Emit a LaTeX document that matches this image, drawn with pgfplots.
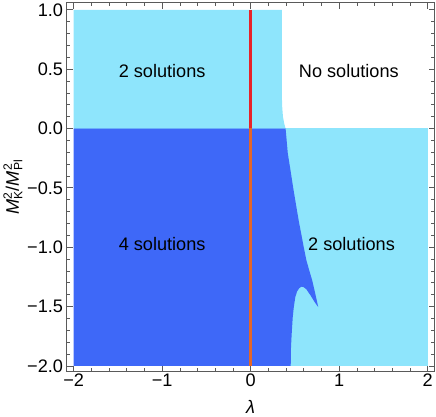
\documentclass[border=0pt]{standalone}
\usepackage{fontspec}
\setmainfont{Liberation Sans}
\usepackage{pgfplots}
\pgfplotsset{compat=1.18}

\definecolor{lightreg}{RGB}{142,229,252}
\definecolor{darkreg}{RGB}{62,104,248}
\definecolor{lineup}{RGB}{232,34,40}
\definecolor{linedown}{RGB}{228,102,40}
\definecolor{framegray}{RGB}{90,90,90}

\newcommand{\ssub}[2]{\makebox[0pt][l]{\raisebox{0.75ex}{\fontsize{12}{12}\selectfont #2}}\raisebox{-0.35ex}{\fontsize{12}{12}\selectfont #1}}

\begin{document}
\begin{tikzpicture}
\begin{axis}[
    width=364bp, height=365bp,
    scale only axis,
    xmin=-2.08, xmax=2.08,
    ymin=-2.05, ymax=1.06,
    xtick={-2,-1,0,1,2},
    xticklabels={−2,−1,0,1,2},
    ytick={-2,-1.5,-1,-0.5,0,0.5,1},
    yticklabels={−2.0,−1.5,−1.0,−0.5,0.0,0.5,1.0},
    minor x tick num=4,
    minor y tick num=4,
    tick align=inside,
    major tick length=6bp,
    minor tick length=3.5bp,
    axis line style={framegray, line width=0.6bp},
    tick style={framegray, line width=0.6bp},
    font=\fontsize{18}{21}\selectfont,
    xticklabel style={yshift=1bp},
    xlabel={\textit{λ}},
    ylabel={\textit{M}\ssub{K}{2}/\textit{M}\ssub{Pl}{2}},
    xlabel style={yshift=-6bp},
    ylabel style={yshift=-2bp},
    axis on top,
]
% light-blue lower band (2 solutions, right)
\addplot[draw=none, fill=lightreg] coordinates {
    (-2,-2) (2,-2) (2,0) (-2,0)
} -- cycle;
% dark-blue region (4 solutions)
\addplot[draw=none, fill=darkreg] coordinates {
    (-2,0) (0.395,0) (0.42,-0.21) (0.45,-0.35) (0.479,-0.49) (0.51,-0.63)
    (0.544,-0.78) (0.575,-0.90) (0.60,-1.00) (0.63,-1.11) (0.66,-1.19)
    (0.696,-1.28) (0.73,-1.39) (0.764,-1.505) (0.726,-1.466) (0.68,-1.41)
    (0.63,-1.355) (0.60,-1.337) (0.575,-1.333) (0.55,-1.345) (0.525,-1.373)
    (0.505,-1.42) (0.487,-1.51) (0.476,-1.59) (0.468,-1.68) (0.461,-1.77)
    (0.456,-1.85) (0.453,-2.0) (-2,-2)
} -- cycle;
% light-blue upper region (2 solutions, left)
\addplot[draw=none, fill=lightreg] coordinates {
    (-2,0) (-2,1) (0.353,1) (0.353,0.27) (0.357,0.18) (0.365,0.10)
    (0.38,0.04) (0.395,0)
} -- cycle;
% lambda = 0 line
\addplot[lineup, line width=3.5bp] coordinates {(0,0) (0,1)};
\addplot[linedown, line width=3.5bp] coordinates {(0,-2) (0,0)};

\node at (axis cs:-1,0.48) {2 solutions};
\node at (axis cs:1.11,0.48) {No solutions};
\node at (axis cs:-1,-0.97) {4 solutions};
\node at (axis cs:1.14,-0.97) {2 solutions};
\end{axis}
\end{tikzpicture}
\end{document}
